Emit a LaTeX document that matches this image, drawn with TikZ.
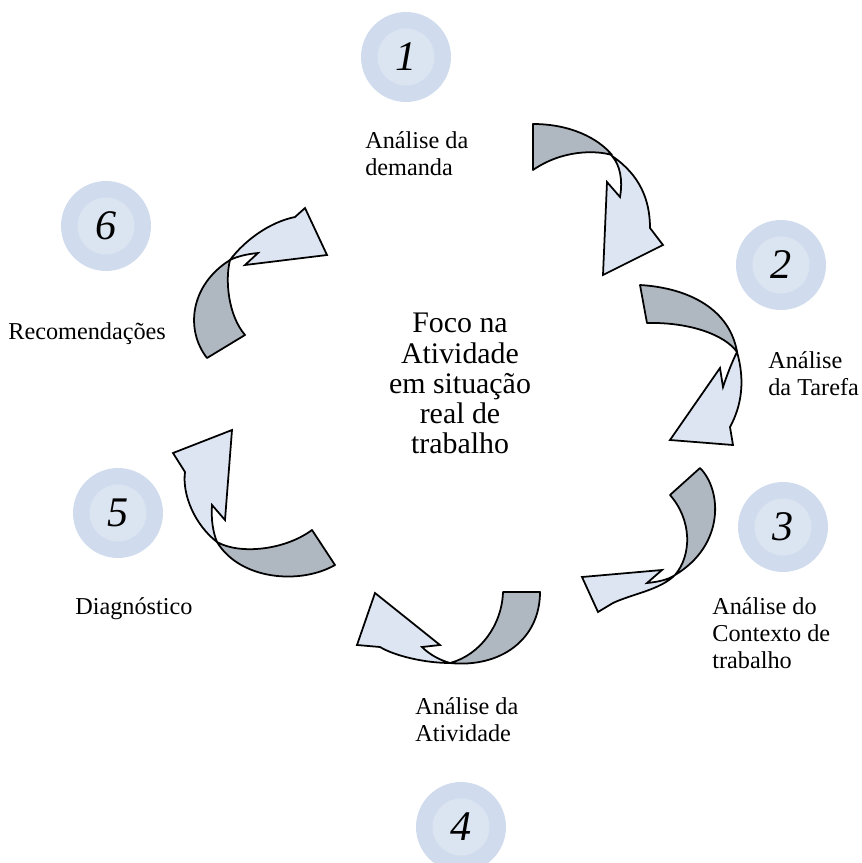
\documentclass[tikz,border=0pt]{standalone}
\usepackage{fontspec}
\setmainfont{Liberation Serif}
\usepackage{tikz}
\usetikzlibrary{positioning}
\definecolor{ringblue}{RGB}{208,220,237}
\definecolor{discblue}{RGB}{219,228,241}
\definecolor{bandgray}{RGB}{175,183,193}
\definecolor{bandlight}{RGB}{220,229,241}
\tikzset{
  ring/.style={circle, fill=ringblue, minimum size=1.8cm, inner sep=0pt},
  numdisc/.style={circle, fill=discblue, minimum size=1.14cm, inner sep=0pt, font=\fontsize{24}{24}\selectfont\itshape},
  steplabel/.style={anchor=north west, align=left, inner sep=0pt, font=\fontsize{13.8}{15.4}\selectfont},
  focus/.style={anchor=north, align=center, inner sep=0pt, font=\fontsize{17}{17.2}\selectfont},
  backband/.style={draw=black, line width=1pt, fill=bandgray, line join=round},
  frontband/.style={draw=black, line width=1pt, fill=bandlight, line join=miter}
}

\begin{document}
\begin{tikzpicture}[x=0.02cm, y=-0.02cm]
  \useasboundingbox (0,0) rectangle (862,863);

  % numbered discs
  \node[ring] (ring1) at (406,57) {};
  \node[numdisc] (num1) at (ring1) {1};
  \node[ring] (ring2) at (781,265) {};
  \node[numdisc] (num2) at (ring2) {2};
  \node[ring] (ring3) at (783,527) {};
  \node[numdisc] (num3) at (ring3) {3};
  \node[ring] (ring4) at (461,827) {};
  \node[numdisc] (num4) at (ring4) {4};
  \node[ring] (ring5) at (118,513) {};
  \node[numdisc] (num5) at (ring5) {5};
  \node[ring] (ring6) at (106,226) {};
  \node[numdisc] (num6) at (ring6) {6};

  % step labels
  \node[steplabel] (lab1) at (365,131) {Análise da\\demanda};
  \node[steplabel] (lab2) at (768,351) {Análise\\da Tarefa};
  \node[steplabel] (lab3) at (712,597) {Análise do\\Contexto de\\trabalho};
  \node[steplabel] (lab4) at (415,697) {Análise da\\Atividade};
  \node[steplabel] (lab5) at (75,597) {Diagnóstico};
  \node[steplabel] (lab6) at (8,322) {Recomendações};
  \node[focus] (foco) at (460,313) {Foco na\\Atividade\\em situação\\real de\\trabalho};

  % twisted arrow 1 -> 2
  \draw[backband] (533,124) .. controls (570,124) and (598,138) .. (612,155)
    .. controls (595,150) and (562,150) .. (533,170) -- cycle;
  \draw[frontband] (612,156) .. controls (640,175) and (650,200) .. (650,228)
    -- (663,245) -- (603,275) -- (607,182) -- (620,197)
    .. controls (623,180) and (620,165) .. (612,156) -- cycle;

  % twisted arrow 2 -> 3
  \draw[backband] (640,285) .. controls (690,288) and (730,310) .. (737,352)
    .. controls (725,335) and (690,322) .. (647,323) -- cycle;
  \draw[frontband] (737,352) .. controls (745,380) and (742,405) .. (730,427)
    -- (733,445) -- (670,440) -- (720,368) -- (723,387)
    .. controls (727,375) and (732,362) .. (737,352) -- cycle;

  % twisted arrow 3 -> 4
  \draw[backband] (670,495) -- (700,468) .. controls (722,490) and (725,545) .. (675,575)
    .. controls (692,555) and (692,520) .. (670,495) -- cycle;
  \draw[frontband] (675,575) .. controls (660,590) and (632,594) .. (613,603)
    -- (598,612) -- (582,577) -- (662,570) -- (647,583)
    .. controls (657,582) and (668,580) .. (675,575) -- cycle;

  % twisted arrow 4 -> 5
  \draw[backband] (503,592) -- (540,592) .. controls (540,640) and (500,668) .. (450,663)
    .. controls (480,655) and (502,625) .. (503,592) -- cycle;
  \draw[frontband] (450,663) .. controls (425,663) and (395,656) .. (380,647)
    -- (357,645) -- (375,593) -- (440,645) -- (422,647)
    .. controls (430,655) and (440,660) .. (450,663) -- cycle;

  % twisted arrow 5 -> 6
  \draw[backband] (312,530) -- (335,565) .. controls (300,585) and (240,580) .. (217,542)
    .. controls (240,555) and (285,550) .. (312,530) -- cycle;
  \draw[frontband] (217,542) .. controls (195,525) and (182,495) .. (185,472)
    -- (173,453) -- (232,430) -- (225,520) -- (212,505)
    .. controls (211,520) and (213,532) .. (217,542) -- cycle;

  % twisted arrow 6 -> 1
  \draw[backband] (207,358) .. controls (185,330) and (190,285) .. (230,260)
    .. controls (225,280) and (228,315) .. (245,335) -- cycle;
  \draw[frontband] (230,260) .. controls (245,240) and (270,222) .. (295,217)
    -- (305,208) -- (327,255) -- (245,265) -- (258,253)
    .. controls (248,254) and (238,256) .. (230,260) -- cycle;
\end{tikzpicture}
\end{document}
